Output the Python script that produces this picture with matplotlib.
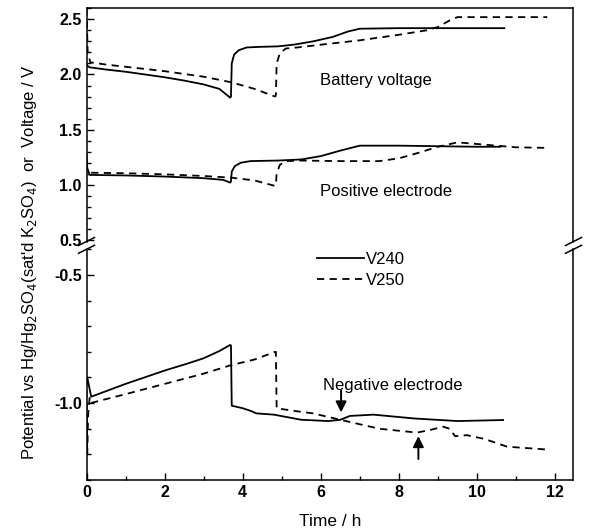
import matplotlib
matplotlib.use("Agg")
import matplotlib.pyplot as plt
from matplotlib.lines import Line2D
from matplotlib.ticker import MultipleLocator, FormatStrFormatter

plt.rcParams['font.family'] = ['Liberation Sans', 'DejaVu Sans']

# battery voltage
bat_240_t = [0, 0.02, 0.08, 0.5, 1.0, 1.5, 2.0, 2.5, 3.0, 3.4, 3.68, 3.70, 3.72, 3.78, 3.9, 4.1,
             4.4, 4.9, 5.3, 5.8, 6.3, 6.7, 7.0, 8.0, 9.0, 10.0, 10.7]
bat_240_v = [2.10, 2.08, 2.065, 2.045, 2.025, 2.00, 1.975, 1.945, 1.91, 1.87, 1.79, 1.80, 2.10, 2.18,
             2.22, 2.245, 2.25, 2.255, 2.27, 2.30, 2.34, 2.39, 2.415, 2.42, 2.42, 2.42, 2.42]
bat_250_t = [0, 0.03, 0.1, 0.5, 1, 2, 3, 3.7, 4.3, 4.83, 4.85, 4.87, 4.95, 5.1, 5.4, 6.0, 7.0, 8.0,
             8.7, 9.0, 9.3, 9.5, 10.5, 11.8]
bat_250_v = [2.60, 2.20, 2.11, 2.09, 2.07, 2.03, 1.98, 1.93, 1.87, 1.80, 1.81, 2.10, 2.19, 2.235,
             2.245, 2.27, 2.31, 2.36, 2.40, 2.43, 2.49, 2.52, 2.52, 2.52]

# positive electrode
pos_240_t = [0, 0.02, 0.08, 1, 2, 3, 3.5, 3.68, 3.70, 3.72, 3.8, 3.95, 4.2, 4.9, 5.5, 6.0, 6.5,
             7.0, 8.0, 9.0, 10.0, 10.6]
pos_240_v = [1.28, 1.15, 1.09, 1.085, 1.075, 1.06, 1.045, 1.02, 1.03, 1.12, 1.17, 1.20, 1.215,
             1.22, 1.23, 1.26, 1.31, 1.355, 1.355, 1.35, 1.345, 1.345]
pos_250_t = [0, 0.03, 0.1, 1, 2, 3, 3.7, 4.3, 4.83, 4.85, 4.87, 4.95, 5.1, 5.5, 6.5, 7.5, 8.0,
             8.5, 9.0, 9.5, 10.0, 11.0, 11.8]
pos_250_v = [1.20, 1.12, 1.11, 1.105, 1.095, 1.08, 1.065, 1.04, 0.99, 1.00, 1.10, 1.18, 1.215,
             1.22, 1.215, 1.215, 1.24, 1.29, 1.345, 1.385, 1.37, 1.34, 1.335]

# negative electrode
neg_240_t = [0, 0.02, 0.12, 1, 2, 2.6, 3.0, 3.4, 3.68, 3.70, 3.72, 4.0, 4.2, 4.35, 4.8, 5.5,
             6.2, 6.5, 6.75, 7.35, 8.4, 9.5, 10.67]
neg_240_v = [-0.93, -0.90, -0.975, -0.925, -0.873, -0.845, -0.825, -0.797, -0.773, -0.775,
             -1.01, -1.02, -1.03, -1.04, -1.045, -1.065, -1.07, -1.065, -1.05, -1.045, -1.06,
             -1.07, -1.066]
neg_250_t = [0, 0.02, 0.04, 0.08, 0.1, 1, 2, 3, 3.7, 4.3, 4.83, 4.85, 4.87, 5.3, 5.8, 6.5,
             7.5, 8.46, 8.8, 9.13, 9.3, 9.44, 9.74, 10.2, 10.77, 11.78]
neg_250_v = [-0.95, -1.20, -1.05, -0.98, -1.00, -0.965, -0.925, -0.885, -0.852, -0.83, -0.80,
             -0.80, -1.02, -1.03, -1.04, -1.065, -1.10, -1.115, -1.105, -1.092, -1.10, -1.129,
             -1.125, -1.14, -1.17, -1.181]

W, H = 590, 532
fig = plt.figure(figsize=(W / 100, H / 100), dpi=100)

left, right = 86.5 / W, 573 / W
y_top, y_brk, y_bot = 1 - 8.3 / H, 1 - 245.5 / H, 1 - 480 / H
ax1 = fig.add_axes([left, y_brk, right - left, y_top - y_brk])
ax2 = fig.add_axes([left, y_bot, right - left, y_brk - y_bot])

lw = 1.3
dash = (0, (4, 3))
ax1.plot(bat_240_t, bat_240_v, color='black', lw=lw)
ax1.plot(bat_250_t, bat_250_v, color='black', lw=lw, linestyle=dash)
ax1.plot(pos_240_t, pos_240_v, color='black', lw=lw)
ax1.plot(pos_250_t, pos_250_v, color='black', lw=lw, linestyle=dash)
ax2.plot(neg_240_t, neg_240_v, color='black', lw=lw, label='V240')
ax2.plot(neg_250_t, neg_250_v, color='black', lw=lw, linestyle=dash, label='V250')

ax1.set_xlim(0, 12.46)
ax2.set_xlim(0, 12.46)
ax1.set_ylim(0.45, 2.60)
ax2.set_ylim(-1.30, -0.385)

for ax in (ax1, ax2):
    ax.xaxis.set_major_locator(MultipleLocator(2))
    ax.xaxis.set_minor_locator(MultipleLocator(1))
    ax.yaxis.set_major_locator(MultipleLocator(0.5))
    ax.yaxis.set_minor_locator(MultipleLocator(0.1))
    ax.yaxis.set_major_formatter(FormatStrFormatter('%.1f'))
    ax.tick_params(which='both', direction='in', top=False, right=False, width=1)
    ax.tick_params(which='major', length=5, labelsize=11.5)
    ax.tick_params(which='minor', length=3)
    for lab in ax.get_xticklabels() + ax.get_yticklabels():
        lab.set_fontweight('bold')
    for s in ax.spines.values():
        s.set_linewidth(1.1)

ax1.spines['bottom'].set_visible(False)
ax1.tick_params(axis='x', which='both', bottom=False, labelbottom=False)
ax2.spines['top'].set_visible(False)
ax1.spines['left'].set_bounds(0.482, 2.60)
ax1.spines['right'].set_bounds(0.482, 2.60)
ax2.spines['left'].set_bounds(-1.30, -0.398)
ax2.spines['right'].set_bounds(-1.30, -0.398)

# break marks
for xc in (86.5, 573.5):
    for yc in (241.5, 249.3):
        fig.add_artist(Line2D([(xc - 8) / W, (xc + 8) / W],
                              [1 - (yc + 4) / H, 1 - (yc - 4) / H],
                              color='black', lw=1.1))

ax1.text(5.98, 1.95, 'Battery voltage', fontsize=12, va='center', ha='left')
ax1.text(5.98, 0.94, 'Positive electrode', fontsize=12, va='center', ha='left')
ax2.text(6.06, -0.93, 'Negative electrode', fontsize=12, va='center', ha='left')

ax2.annotate('', xy=(6.52, -1.047), xytext=(6.52, -0.94),
             arrowprops=dict(arrowstyle='-|>', color='black', lw=1.4, mutation_scale=16))
ax2.annotate('', xy=(8.5, -1.118), xytext=(8.5, -1.229),
             arrowprops=dict(arrowstyle='-|>', color='black', lw=1.4, mutation_scale=16))

leg = ax2.legend(loc='upper left', bbox_to_anchor=(0.461, 1.0), frameon=False, fontsize=12,
                 handlelength=2.8, handletextpad=0.1, labelspacing=0.35, borderaxespad=0)

ax2.set_xlabel('Time / h', fontsize=12.5, labelpad=10)
fig.text(30 / W, 1 - 262 / H,
         r"Potential vs Hg/Hg$_2$SO$_4$(sat'd K$_2$SO$_4$)  or  Voltage / V",
         rotation=90, ha='center', va='center', fontsize=12)

fig.savefig('out.png', dpi=100)
